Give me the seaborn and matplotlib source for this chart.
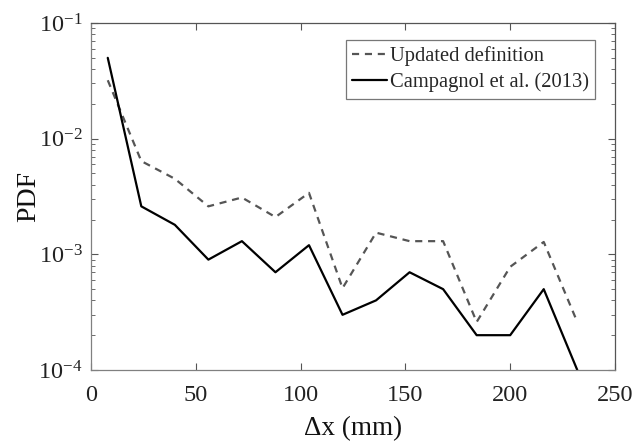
import numpy as np
import pandas as pd
import matplotlib
matplotlib.use("Agg")
import matplotlib.pyplot as plt
import seaborn as sns
from matplotlib.ticker import LogLocator, LogFormatterSciNotation, MultipleLocator

# Bin centres (mm) and PDF values for the two definitions
dx_mm = [8, 24, 40, 56, 72, 88, 104, 120, 136, 152, 168, 184, 200, 216, 232]
pdf_updated = [0.032, 0.0064, 0.0045, 0.0026, 0.0031, 0.0021, 0.0034, 0.00051,
               0.00154, 0.0013, 0.0013, 0.00026, 0.00078, 0.00128, 0.00026]
pdf_campagnol = [0.050, 0.0026, 0.0018, 0.0009, 0.0013, 0.0007, 0.0012, 0.0003,
                 0.0004, 0.0007, 0.0005, 0.0002, 0.0002, 0.0005, 0.0001]
series_names = ["Updated definition", "Campagnol et al. (2013)"]

sns.set_style("white")
plt.rcParams["font.family"] = ["Liberation Serif", "DejaVu Serif"]
plt.rcParams["mathtext.fontset"] = "custom"
plt.rcParams["mathtext.rm"] = "Liberation Serif"
plt.rcParams["mathtext.it"] = "Liberation Serif:italic"
plt.rcParams["mathtext.bf"] = "Liberation Serif:bold"

df_upd = pd.DataFrame({"dx": dx_mm, "pdf": pdf_updated})
df_cam = pd.DataFrame({"dx": dx_mm, "pdf": pdf_campagnol})

fig = plt.figure(figsize=(6.35, 4.46), dpi=100)
ax = fig.add_axes([0.1433, 0.1704, 0.8252, 0.778])

sns.lineplot(data=df_upd, x="dx", y="pdf", ax=ax, color="#555555",
             linewidth=1.6, linestyle=(0, (3.2, 2.6)), label=series_names[0])
sns.lineplot(data=df_cam, x="dx", y="pdf", ax=ax, color="black",
             linewidth=1.6, label=series_names[1])

ax.set_yscale("log")
ax.set_xlim(0, 250)
ax.set_ylim(1e-4, 1e-1)
ax.xaxis.set_major_locator(MultipleLocator(50))
ax.yaxis.set_major_locator(LogLocator(base=10, numticks=10))
ax.yaxis.set_minor_locator(LogLocator(base=10, subs=np.arange(2, 10), numticks=10))
ax.yaxis.set_major_formatter(LogFormatterSciNotation())

ax.tick_params(axis="both", which="both", direction="in",
               left=True, bottom=True, top=True, right=True,
               labelsize=17.5, colors="#555555", labelcolor="#222222")
ax.tick_params(axis="both", which="major", length=5, width=0.8)
ax.tick_params(axis="x", which="major", pad=11)
ax.tick_params(axis="y", which="major", pad=6)
ax.tick_params(axis="y", which="minor", length=3, width=0.6)
ax.tick_params(axis="x", which="minor", length=0)

for side in ["left", "bottom"]:
    ax.spines[side].set_color("#808080")
for side in ["top", "right"]:
    ax.spines[side].set_color("#555555")
for s in ax.spines.values():
    s.set_linewidth(0.9)

ax.set_xlabel("Δx (mm)", fontsize=19.5, labelpad=7, color="#111111")
ax.set_ylabel("PDF", fontsize=20, labelpad=-2, color="#111111")

leg = ax.legend(loc="upper right", bbox_to_anchor=(0.962, 0.95), fontsize=14.8,
                frameon=True, fancybox=False, edgecolor="#555555",
                handlelength=1.7, handletextpad=0.15, borderpad=0.3,
                labelspacing=0.3, borderaxespad=0.0)
leg.get_frame().set_linewidth(0.9)

fig.savefig("out.png", dpi=100)
